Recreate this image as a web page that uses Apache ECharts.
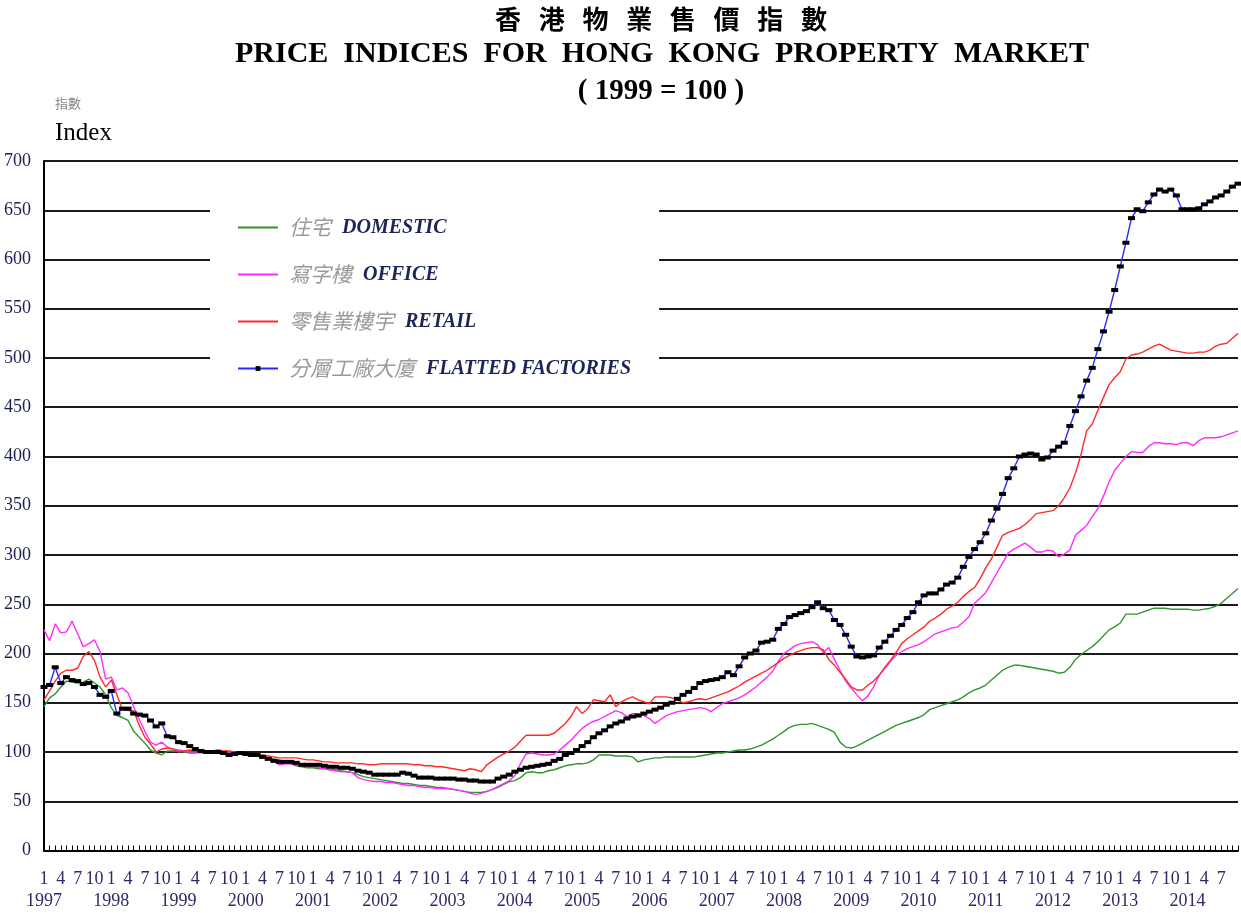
<!DOCTYPE html>
<html>
<head>
<meta charset="utf-8">
<script src="https://cdn.jsdelivr.net/npm/echarts@6/dist/echarts.min.js"></script>
<style>
  html, body { margin: 0; padding: 0; background: #fff; }
  #main { width: 1241px; height: 913px; }
</style>
</head>
<body>
<div id="main"></div>
<script>
// monthly data, Jan 1997 - Oct 2014 (1999 = 100)
var years = ['1997', '1998', '1999', '2000', '2001', '2002', '2003', '2004', '2005',
             '2006', '2007', '2008', '2009', '2010', '2011', '2012', '2013', '2014'];
var monthTicks = [1, 4, 7, 10];
var cnNames = ['住宅', '寫字樓', '零售業樓宇', '分層工廠大廈'];
var enNames = ['DOMESTIC', 'OFFICE', 'RETAIL', 'FLATTED FACTORIES'];

var domestic = [
    146, 155, 159, 166, 172, 171, 170, 171, 174, 170, 166, 158,  // 1997
    145, 137, 135, 132, 121, 115, 109, 102, 99, 97, 101, 101,    // 1998
    101, 100, 99, 99, 100, 101, 101, 100, 100, 99, 99, 98,       // 1999
    98, 97, 96, 95, 94, 93, 92, 90, 88, 86, 85, 84,              // 2000
    84, 83, 83, 82, 82, 81, 80, 79, 77, 75, 74, 73,              // 2001
    72, 71, 70, 69, 68, 68, 67, 66, 66, 65, 64, 64,              // 2002
    63, 62, 61, 60, 59, 59, 59, 60, 62, 64, 67, 70,              // 2003
    71, 74, 79, 80, 79, 79, 81, 82, 84, 86, 87, 88,              // 2004
    88, 89, 92, 97, 97, 97, 96, 96, 96, 95, 90, 92,              // 2005
    93, 94, 94, 95, 95, 95, 95, 95, 95, 96, 97, 98,              // 2006
    99, 99, 100, 101, 102, 102, 103, 105, 107, 110, 113, 117,    // 2007
    121, 125, 127, 128, 128, 129, 127, 125, 123, 120, 110, 105,  // 2008
    104, 106, 109, 112, 115, 118, 121, 124, 127, 129, 131, 133,  // 2009
    135, 138, 143, 145, 147, 149, 151, 153, 156, 160, 163, 165,  // 2010
    168, 173, 178, 183, 186, 188, 188, 187, 186, 185, 184, 183,  // 2011
    182, 180, 181, 186, 194, 199, 203, 207, 212, 218, 224, 227,  // 2012
    231, 240, 240, 240, 242, 244, 246, 246, 246, 245, 245, 245,  // 2013
    245, 244, 244, 245, 246, 248, 251, 256, 261, 266             // 2014
];

var office = [
    224, 213, 230, 221, 222, 233, 220, 207, 210, 214, 202, 174,
    176, 163, 165, 160, 146, 133, 121, 110, 107, 110, 105, 103,
    102, 101, 100, 100, 99, 100, 100, 101, 100, 100, 99, 99,
    99, 98, 97, 96, 94, 91, 87, 88, 88, 87, 86, 85,
    85, 84, 83, 82, 81, 80, 80, 79, 74, 72, 71, 70,
    70, 69, 69, 68, 67, 66, 66, 65, 64, 64, 63, 63,
    63, 62, 61, 60, 58, 57, 58, 60, 62, 65, 68, 71,
    76, 88, 98, 99, 98, 97, 97, 98, 102, 107, 112, 118,
    124, 128, 131, 133, 136, 139, 142, 140, 136, 139, 139, 137,
    134, 129, 133, 137, 139, 141, 142, 143, 144, 145, 144, 141,
    145, 149, 151, 153, 155, 158, 162, 166, 171, 176, 182, 192,
    200, 204, 208, 210, 211, 212, 209, 201, 206, 194, 183, 172,
    165, 158, 152, 157, 166, 178, 185, 192, 198, 202, 205, 207,
    209, 212, 216, 220, 222, 224, 226, 227, 232, 237, 251, 256,
    262, 272, 282, 292, 302, 306, 309, 312, 308, 303, 303, 305,
    304, 298, 301, 305, 320, 325, 330, 339, 347, 360, 374, 386,
    393, 400, 405, 404, 404, 410, 414, 414, 413, 413, 412, 414,
    414, 411, 416, 419, 419, 419, 420, 422, 424, 426
];

var retail = [
    153, 162, 172, 180, 183, 183, 185, 197, 202, 193, 176, 166,
    173, 158, 143, 142, 142, 127, 115, 108, 100, 103, 104, 103,
    100, 101, 102, 101, 100, 100, 101, 102, 101, 101, 100, 99,
    98, 98, 97, 97, 96, 95, 94, 94, 94, 94, 93, 92,
    92, 91, 90, 90, 89, 89, 89, 89, 88, 88, 87, 87,
    88, 88, 88, 88, 88, 88, 87, 87, 86, 86, 85, 85,
    84, 83, 82, 81, 83, 82, 80, 87, 91, 95, 98, 101,
    105, 111, 117, 117, 117, 117, 117, 119, 124, 129, 136, 146,
    139, 144, 153, 152, 151, 158, 146, 151, 154, 156, 153, 151,
    149, 156, 156, 156, 155, 153, 150, 151, 153, 154, 153, 155,
    157, 159, 161, 164, 167, 171, 174, 177, 180, 183, 187, 191,
    195, 198, 201, 203, 205, 206, 206, 204, 194, 188, 181, 174,
    166, 163, 163, 168, 172, 178, 186, 193, 201, 210, 215, 219,
    223, 227, 233, 236, 240, 245, 248, 252, 258, 263, 267, 276,
    287, 296, 308, 320, 323, 325, 327, 331, 336, 342, 343, 344,
    345, 350, 358, 368, 383, 402, 426, 433, 447, 460, 473, 480,
    486, 499, 503, 504, 506, 509, 512, 514, 511, 508, 507, 506,
    505, 505, 506, 506, 508, 512, 514, 515, 520, 525
];

var factories = [
    166, 168, 186, 170, 176, 173, 172, 169, 170, 166, 158, 156,
    162, 139, 144, 144, 139, 138, 137, 132, 126, 129, 116, 115,
    110, 109, 106, 103, 101, 100, 100, 100, 99, 97, 98, 99,
    98, 97, 97, 95, 93, 91, 90, 90, 90, 89, 87, 87,
    87, 87, 86, 85, 85, 84, 84, 83, 81, 80, 79, 77,
    77, 77, 77, 77, 79, 78, 76, 74, 74, 74, 73, 73,
    73, 73, 72, 72, 71, 71, 70, 70, 70, 73, 75, 77,
    80, 82, 84, 85, 86, 87, 88, 91, 93, 97, 99, 102,
    106, 110, 115, 119, 122, 126, 129, 131, 134, 136, 137, 139,
    141, 143, 145, 148, 150, 154, 158, 161, 165, 170, 172, 173,
    174, 176, 181, 178, 187, 196, 200, 203, 211, 212, 214, 225,
    230, 237, 239, 241, 243, 247, 252, 246, 244, 234, 229, 219,
    207, 197, 196, 197, 198, 206, 212, 218, 224, 229, 236, 242,
    252, 259, 261, 261, 265, 270, 272, 277, 288, 298, 306, 313,
    322, 335, 347, 362, 378, 388, 400, 402, 403, 402, 397, 399,
    406, 410, 414, 431, 446, 461, 477, 490, 509, 527, 547, 569,
    593, 617, 642, 651, 649, 658, 666, 671, 669, 671, 665, 651,
    651, 651, 652, 656, 659, 663, 665, 669, 674, 677
];

var categories = [];
for (var i = 0; i < domestic.length; i++) {
    var m = i % 12 + 1;
    var y = years[Math.floor(i / 12)];
    var lbl = '';
    if (monthTicks.indexOf(m) >= 0 && i < domestic.length - 1) {
        lbl = m === 1 ? '{m|1}\n{y|' + y + '}' : '{m|' + m + '}';
    }
    categories.push(lbl);
}

var serif = '"Liberation Serif", "Times New Roman", serif';
var cjk = '"Noto Sans CJK TC", "Noto Sans CJK SC", sans-serif';
var noMark = {color: 'rgba(0,0,0,0)', borderWidth: 0};

var myChart = echarts.init(document.getElementById('main'));
var option = {
    animation: false,
    backgroundColor: '#fff',
    title: [
        {
            text: '香   港   物   業   售   價   指   數',
            left: 656, top: 1, textAlign: 'center',
            textStyle: {fontFamily: cjk, fontWeight: 'bold', fontSize: 26, color: '#000'}
        },
        {
            text: 'PRICE  INDICES  FOR  HONG  KONG  PROPERTY  MARKET',
            left: 657, top: 34, textAlign: 'center',
            textStyle: {fontFamily: serif, fontWeight: 'bold', fontSize: 30, color: '#000'}
        },
        {
            text: '( 1999 = 100 )',
            left: 656, top: 72, textAlign: 'center',
            textStyle: {fontFamily: serif, fontWeight: 'bold', fontSize: 29, color: '#000'}
        },
        {
            text: '指數',
            left: 50, top: 92,
            textStyle: {fontFamily: cjk, fontWeight: 'normal', fontSize: 13, color: '#888'}
        },
        {
            text: 'Index',
            left: 50, top: 116,
            textStyle: {fontFamily: serif, fontWeight: 'normal', fontSize: 25, color: '#000'}
        }
    ],
    legend: {
        orient: 'vertical',
        left: 210,
        top: 194,
        padding: [23, 28, 22, 27],
        backgroundColor: '#fff',
        itemWidth: 40,
        itemHeight: 6,
        itemGap: 26,
        data: [
            {name: 'd', itemStyle: noMark},
            {name: 'o', itemStyle: noMark},
            {name: 'r', itemStyle: noMark},
            {name: 'f'}
        ],
        formatter: function (name) {
            var k = ['d', 'o', 'r', 'f'].indexOf(name);
            return '{cn|' + cnNames[k] + '}{en|' + enNames[k] + '}';
        },
        textStyle: {
            rich: {
                cn: {fontFamily: cjk, fontStyle: 'italic', fontSize: 21, color: '#9a9a9a',
                     lineHeight: 22, padding: [0, 11, 0, 6]},
                en: {fontFamily: serif, fontStyle: 'italic', fontWeight: 'bold', fontSize: 20,
                     color: '#1c2458', lineHeight: 22}
            }
        }
    },
    grid: {
        left: 44,
        right: 3,
        top: 161,
        bottom: 62.5,
        containLabel: false,
        outerBoundsMode: 'none'
    },
    xAxis: {
        type: 'category',
        boundaryGap: false,
        data: categories,
        axisLine: {lineStyle: {color: '#000', width: 2}},
        axisTick: {inside: true, interval: 0, length: 5, lineStyle: {color: '#000', width: 1}},
        axisLabel: {
            interval: 0,
            margin: 18,
            rich: {
                m: {fontFamily: serif, fontSize: 18, color: '#2b2a6b', lineHeight: 22},
                y: {fontFamily: serif, fontSize: 18, color: '#2b2a6b', lineHeight: 22}
            }
        },
        splitLine: {show: false}
    },
    yAxis: {
        type: 'value',
        min: 0,
        max: 700,
        interval: 50,
        axisLine: {show: true, lineStyle: {color: '#000', width: 2}},
        axisTick: {show: false},
        axisLabel: {fontFamily: serif, fontSize: 18, color: '#1c2050', margin: 13},
        splitLine: {lineStyle: {color: '#1a1a1a', width: 2}}
    },
    series: [
        {
            name: 'd', type: 'line', data: domestic, symbol: 'none',
            itemStyle: {color: '#2f962f'},
            lineStyle: {color: '#2f962f', width: 1.4}
        },
        {
            name: 'o', type: 'line', data: office, symbol: 'none',
            itemStyle: {color: '#ff2bff'},
            lineStyle: {color: '#ff2bff', width: 1.4}
        },
        {
            name: 'r', type: 'line', data: retail, symbol: 'none',
            itemStyle: {color: '#ff2a2a'},
            lineStyle: {color: '#ff2a2a', width: 1.4}
        },
        {
            name: 'f', type: 'line', data: factories,
            symbol: 'rect', symbolSize: [7, 4], showAllSymbol: true,
            itemStyle: {color: '#000'},
            lineStyle: {color: '#2a2aff', width: 1.4}
        }
    ]
};
myChart.setOption(option);
</script>
</body>
</html>
